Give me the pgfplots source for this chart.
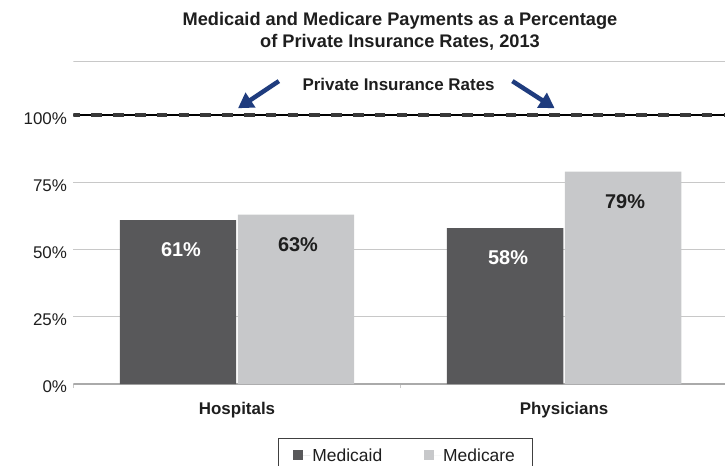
\documentclass[border=0pt]{standalone}
\usepackage{fontspec}
\setmainfont{Liberation Sans}
\usepackage{pgfplots}
\pgfplotsset{compat=1.18}
\usetikzlibrary{arrows.meta}
\definecolor{caid}{HTML}{58585A}
\definecolor{care}{HTML}{C7C8CA}
\definecolor{arr}{HTML}{1F3C7E}
\definecolor{gridc}{HTML}{C8C8C8}
\definecolor{txt}{HTML}{1E1E1E}
\begin{document}
\begin{tikzpicture}
\begin{axis}[
  at={(0,0)}, anchor=south west,
  scale only axis, width=651.5bp, height=322.5bp,
  xmin=-0.5, xmax=1.492, ymin=0, ymax=120,
  axis line style={draw=none},
  tick pos=left,
  xtick={0,1}, xticklabels={Hospitals,Physicians},
  xticklabel style={font=\fontsize{17}{20}\selectfont\bfseries, text=txt, yshift=-15bp},
  ytick={0,25,50,75,100}, yticklabels={0\%,25\%,50\%,75\%,100\%},
  yticklabel style={font=\fontsize{17}{20}\selectfont, text=txt, yshift=-3bp, xshift=-3bp},
  major tick length=0pt,
  extra x ticks={-0.5,0.5}, extra x tick labels={},
  extra x tick style={major tick length=4bp, tick align=outside, tick style={gridc, line width=1bp}},
  ymajorgrids, grid style={gridc, line width=1bp},
  /pgf/number format/assume math mode=true,
  legend columns=2,
  legend style={at={(0.314,0)}, anchor=north west, yshift=-54bp, draw=black!75, line width=0.8bp,
    font=\fontsize{17.5}{20}\selectfont, text=txt,
    /tikz/every even column/.append style={column sep=40bp}, inner xsep=15bp, inner ysep=8bp},
  legend image code/.code={\path (0bp,0bp) -- (17bp,0bp); \fill[#1] (0bp,-5bp) rectangle (10bp,5bp);},
]
\draw[gridc!85!black, line width=1.5bp] (rel axis cs:0,0) -- (rel axis cs:1,0);
\draw[gridc, line width=1.5bp] (rel axis cs:0,1) -- (rel axis cs:1,1);
\addplot[ybar, bar width=0.356, bar shift=-59bp, fill=caid, draw=none,
  nodes near coords={\pgfmathprintnumber{\pgfplotspointmeta}\%},
  every node near coord/.append style={anchor=center, xshift=-56bp, yshift=-29.5bp, text=white, font=\fontsize{20}{24}\selectfont\bfseries}]
  coordinates {(0,61) (1,58)};
\addlegendentry{Medicaid}
\addplot[ybar, bar width=0.356, bar shift=59bp, fill=care, draw=none,
  nodes near coords={\pgfmathprintnumber{\pgfplotspointmeta}\%},
  every node near coord/.append style={anchor=center, xshift=61bp, yshift=-29.5bp, text=txt, font=\fontsize{20}{24}\selectfont\bfseries}]
  coordinates {(0,63) (1,79)};
\addlegendentry{Medicare}
\addplot[black, line width=1.6bp, forget plot] coordinates {(-0.5,100) (1.492,100)};
\addplot[black!78, line width=4bp, dash pattern=on 10.7bp off 11.1bp, dash phase=4bp, forget plot] coordinates {(-0.5,100) (1.492,100)};
\node[font=\fontsize{17}{20}\selectfont\bfseries, text=txt] at (axis cs:0.494,111.3) {Private Insurance Rates};
\draw[arr, line width=4.5bp, -{Triangle[length=15bp,width=17bp]}] (axis cs:0.128,112.7) -- (axis cs:0.003,102.6);
\draw[arr, line width=4.5bp, -{Triangle[length=15bp,width=17bp]}] (axis cs:0.842,112.7) -- (axis cs:0.971,102.6);
\end{axis}
\node[align=center, font=\fontsize{18.3}{22.5}\selectfont\bfseries, text=txt] at (326.5bp,352.5bp) {Medicaid and Medicare Payments as a Percentage\\of Private Insurance Rates, 2013};
\pgfresetboundingbox
\path (-73.5bp,-82bp) rectangle (651.5bp,384bp);
\end{tikzpicture}
\end{document}
